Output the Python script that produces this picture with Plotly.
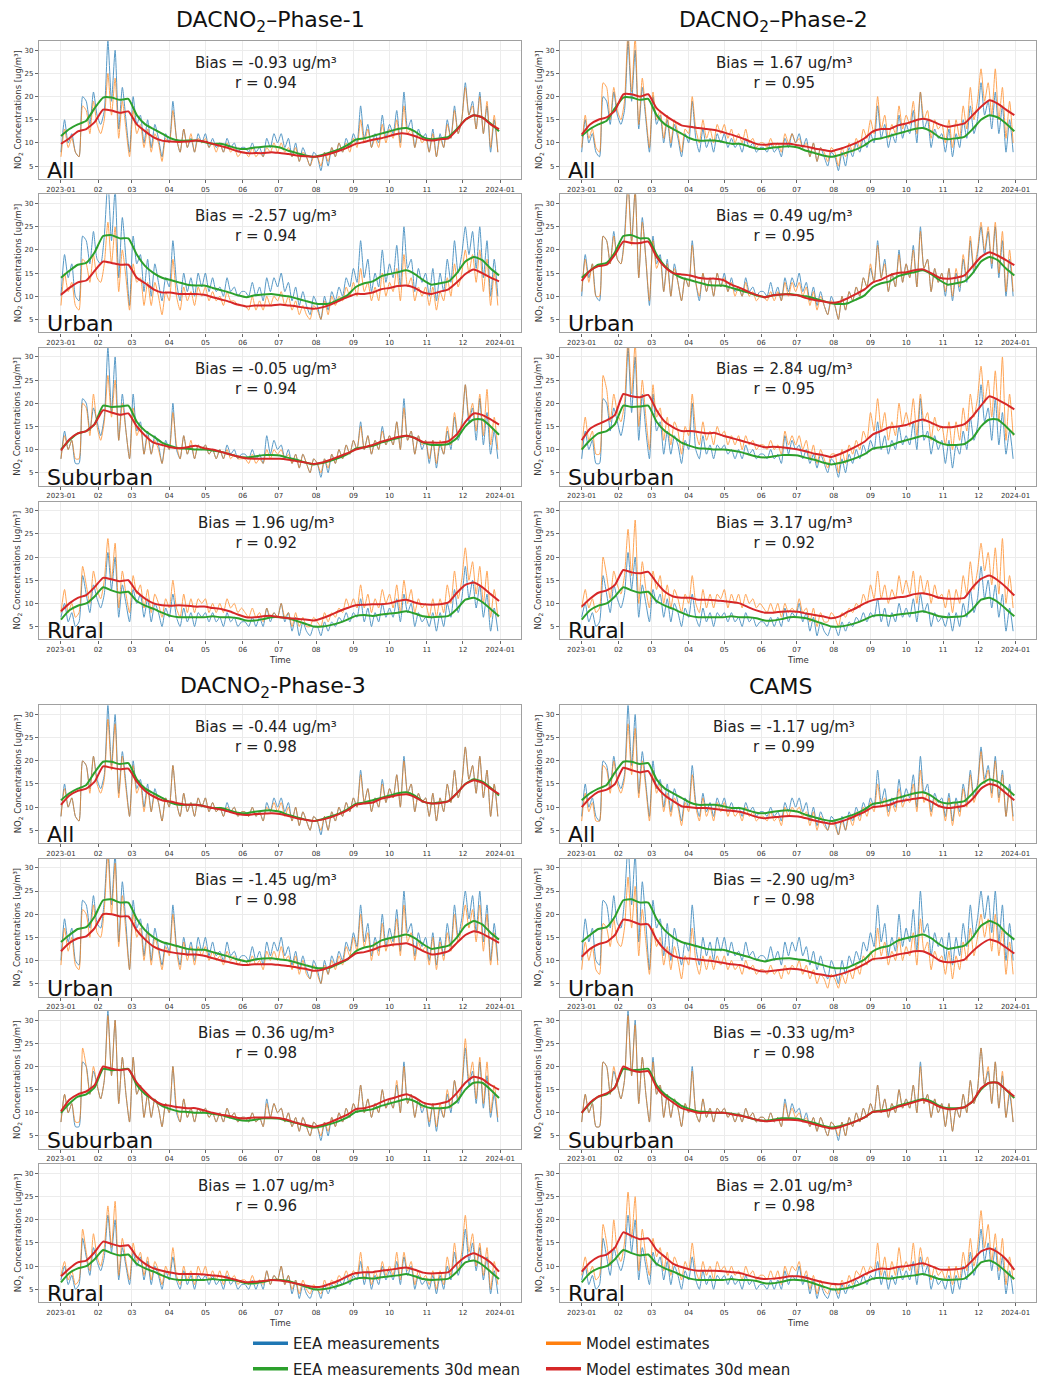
import plotly.graph_objects as go
import pandas as pd

W, H = 1038, 1385

# ---------------- data ----------------
TICK_LABELS = ["2023-01", "02", "03", "04", "05", "06", "07", "08", "09", "10", "11", "12", "2024-01"]
MONTH_TICKS = pd.date_range("2023-01-01", "2024-01-01", freq="MS")
Y_TICKS = [5, 10, 15, 20, 25, 30]
X_RANGE = ["2022-12-13 18:00", "2024-01-18 06:00"]
Y_RANGE = [2.2, 32.0]

DAILY_DATES = pd.date_range("2023-01-01", periods=122, freq="3D")   # every third day
MEAN_DATES = pd.date_range("2023-01-01", periods=53, freq="7D")     # weekly samples of 30d mean

CATEGORIES = ["All", "Urban", "Suburban", "Rural"]
MODELS = ["DACNO<sub>2</sub>–Phase-1", "DACNO<sub>2</sub>–Phase-2", "DACNO<sub>2</sub>-Phase-3", "CAMS"]

BIAS_P1 = [-0.93, -2.57, -0.05, 1.96]
BIAS_P2 = [1.67, 0.49, 2.84, 3.17]
BIAS_P3 = [-0.44, -1.45, 0.36, 1.07]
BIAS_CAMS = [-1.17, -2.90, -0.33, 2.01]
R_P1 = [0.94, 0.94, 0.94, 0.92]
R_P2 = [0.95, 0.95, 0.95, 0.92]
R_P3 = [0.98, 0.98, 0.98, 0.96]
R_CAMS = [0.99, 0.98, 0.98, 0.98]

# EEA measurements (shared by all models)
EEA_ALL = [8,15,10,12,8,7,20,19,14,21,16, 14,17,32,19,30,13,22,15,8, 20,14,16,10,15,9,14,11,7,12,
           10,19,11,8,13,9,11,8,12,10, 12,9,11,9,10,8,11,9,10,8,9, 9,8,10,8,9,7,11,9,12,10,
           12,9,11,7,10,6,9,7,5,8, 7,4,8,5,9,7,10,8,11,9, 12,10,18,11,14,9,12,10,16,11,
           14,12,17,10,21,13,15,9,13,11,12, 8,13,7,12,9,15,11,18,12,15, 23,16,19,13,21,12,18,8,15,8]
EEA_URB = [10,19,14,17,10,9,23,22,17,24,18, 17,23,35,22,33,14,27,18,8, 23,17,19,11,18,10,17,13,9,14,
           12,22,13,9,15,11,14,10,15,12, 15,11,14,11,12,10,14,11,12,10,11, 11,10,13,10,12,9,14,11,14,12,
           15,11,13,9,12,8,11,8,6,10, 8,5,10,7,11,9,12,10,14,12, 16,13,22,14,18,11,15,12,20,13,
           17,14,21,12,25,16,18,11,16,13,15, 10,16,9,15,11,18,13,22,15,19, 25,19,24,16,25,14,22,10,18,10]
EEA_SUB = [8,14,10,12,7,7,21,20,14,19,16, 13,17,32,18,30,12,22,14,8, 22,14,16,9,14,9,13,11,7,12,
           10,20,10,8,13,9,11,8,11,10, 11,9,10,8,10,8,11,9,10,8,9, 9,8,10,8,9,7,13,9,12,10,
           11,8,10,7,9,6,9,7,5,8, 7,4,8,5,9,7,10,8,11,9, 12,10,16,10,13,9,12,10,15,11,
           13,11,16,10,21,12,14,9,13,10,12, 7,12,6,11,9,14,10,17,12,15, 24,16,19,12,21,11,18,9,14,8]
EEA_RUR = [7,10,6,8,5,6,16,12,8,14,11, 9,12,21,13,20,7,14,10,6, 13,10,12,7,11,6,10,8,5,9,
           7,12,7,5,9,6,8,5,8,7, 8,6,8,6,7,5,8,6,7,5,6, 6,5,7,5,7,5,9,6,8,7,
           10,6,8,4,7,3,6,4,3,5, 5,3,6,4,6,5,7,6,8,6, 8,7,11,6,9,5,8,6,10,7,
           9,7,11,6,12,8,10,5,8,6,7, 5,8,4,8,5,10,7,13,8,11, 18,11,15,9,14,7,12,4,9,4]

EEA_MEAN_ALL = [11.5,13,14,14.8,17.5, 19.8,19.8,19.3,19.5, 16,14,13,12, 11,10.5,10.5,10.5,10.2,
                9.8,9.8,9.3,8.8, 8.7,9,9.2,9.3, 9,8.3,7.8,7.3,7, 7.4,8,8.6,9.5, 10.7,11,11.5,12,
                12.5,13,13.2,12.5,11.2, 10.8,11,11.3,13, 15,16,15.5,14.2,12.5]
EEA_MEAN_URB = [14,15.5,16.8,17.2,19.5, 23,23.2,22.5,22.5, 19,16.5,15,14, 13.5,13,12.5,12.3,12.3,
                11.8,11.3,10.8,10.2, 9.8,10.2,10.4,10.5, 10.2,10,9.5,9,8.5, 8.3,8.5,9.3,10.2, 12,12.8,13.2,14.3,
                14.8,15.2,15.6,14.8,13.5, 12.5,12.8,13.2,15, 17.5,18.5,17.8,16,14.5]
EEA_MEAN_SUB = [10,12,13.5,14,15.5, 19.5,19.2,19.3,19.5, 16,14,12.8,11.5, 10.8,10.3,10.2,10,10,
                9.8,9.5,9,8.5, 8.3,8.5,8.8,8.8, 8.7,8.2,7.8,7.2,6.8, 7.1,7.6,8.2,9, 10.2,10.5,10.8,11.5,
                12,12.5,13,12.5,11.5, 11,11,11.2,12.5, 15,16.5,16.5,15,13.2]
EEA_MEAN_RUR = [6.5,8.5,9.5,10,11.5, 13.5,12.8,12.3,12.5, 10.5,9.5,8.8,8, 7.3,7,7,7,7,
                7.2,7,7,6.8, 6.3,6.3,6.6,7, 7,6.8,6.2,5.6,5, 5,5.3,5.8,6.5, 7.3,7.5,7.3,7.6,
                7.8,8,8.3,7.8,7.2, 7,7.1,7.3,8.8, 10.8,11.2,10.3,8.8,7.2]

# Model estimates (daily samples)
P1_ALL = [7,13,9,11,8,7,18,17,12,19,14, 12,15,25,16,24,11,19,13,7, 17,12,14,9,13,8,12,10,6,11,
          10,17,11,8,13,9,12,8,11,10, 11,9,10,8,10,8,10,8,9,7,8, 8,7,9,7,8,7,9,8,10,8,
          10,8,9,7,9,6,8,7,5,7, 7,5,8,6,9,7,10,8,10,8, 11,9,15,10,13,9,11,9,14,10,
          13,11,15,9,18,12,13,9,12,10,11, 8,12,7,11,9,14,11,17,12,15, 22,16,18,13,20,12,19,9,16,8]
P1_URB = [8,15,11,13,8,7,18,17,13,19,14, 13,17,26,17,25,11,20,14,7, 17,13,14,8,13,8,13,10,6,11,
          9,18,10,7,12,9,11,8,12,10, 12,9,11,9,10,8,11,9,9,8,8, 8,7,10,7,9,7,10,8,10,9,
          11,8,10,7,9,6,8,6,5,8, 7,5,9,6,10,8,10,9,12,10, 13,10,16,11,13,9,12,9,15,10,
          13,11,16,9,19,12,14,9,12,10,12, 8,12,7,11,9,14,10,17,12,15, 20,15,19,13,20,11,18,8,15,8]
P1_SUB = [8,13,10,12,8,8,20,19,13,22,15, 12,16,26,17,25,12,20,14,8, 19,13,15,9,13,9,12,10,7,11,
          10,18,11,8,13,9,12,8,11,10, 11,9,10,8,10,8,10,8,9,8,8, 8,7,9,7,8,7,10,8,10,9,
          10,8,9,7,9,6,9,7,5,8, 7,5,8,6,9,7,10,8,11,9, 12,10,15,10,13,9,12,10,14,11,
          13,11,16,10,19,12,14,9,13,11,12, 8,12,7,12,9,15,11,18,13,16, 24,17,20,14,22,13,23,11,17,10]
P1_RUR = [8,13,8,10,7,8,18,14,10,17,13, 11,15,24,15,23,9,17,12,8, 16,12,14,9,13,8,12,10,7,11,
          9,15,9,7,12,8,11,8,11,10, 11,8,10,8,10,8,11,9,10,8,9, 8,7,9,7,8,6,9,7,8,7,
          10,7,8,5,8,5,7,5,5,7, 6,5,8,6,8,7,9,8,11,9, 11,9,14,9,12,8,11,9,13,10,
          12,9,14,8,15,10,13,8,11,9,10, 7,11,7,11,8,14,10,17,11,15, 22,15,19,12,18,10,17,7,13,7]

P2_ALL = [9,16,11,13,9,8,23,22,15,22,17, 15,19,34,21,33,14,24,16,9, 21,15,17,11,16,10,15,12,8,13,
          12,20,13,10,15,11,13,10,14,12, 14,11,13,10,12,10,13,10,11,9,10, 10,9,11,9,10,8,12,10,12,10,
          11,9,10,7,10,6,9,8,6,9, 8,5,9,7,10,8,11,9,13,11, 15,12,20,13,16,11,14,12,18,13,
          16,14,19,12,21,15,17,11,15,13,14, 10,15,9,15,11,18,13,22,15,19, 26,19,23,16,26,15,22,11,19,10]
P2_URB = [11,18,13,17,10,10,23,22,17,23,18, 17,22,34,21,33,14,26,18,9, 22,16,18,11,17,10,16,13,9,14,
          12,21,13,10,15,11,14,10,15,12, 14,11,13,10,12,10,13,10,11,9,10, 10,9,11,9,11,9,13,10,13,11,
          13,10,12,8,11,7,10,8,6,9, 8,5,10,7,11,9,12,10,14,12, 17,13,21,14,17,11,15,12,19,13,
          17,14,20,12,24,16,18,11,16,13,15, 11,16,10,16,12,19,14,23,16,20, 26,20,25,17,26,15,24,11,20,11]
P2_SUB = [10,17,12,14,9,9,26,23,16,22,18, 16,20,34,22,33,15,25,17,10, 24,17,19,12,17,11,16,14,9,15,
          13,22,14,11,16,12,14,11,15,13, 14,11,13,11,13,10,13,11,12,10,11, 11,10,12,10,11,9,14,11,13,11,
          13,10,12,8,11,7,10,8,6,9, 9,5,10,7,11,9,12,10,14,12, 18,14,21,14,18,12,16,13,20,15,
          18,15,21,13,22,16,18,12,17,14,15, 11,16,10,16,12,19,14,22,17,21, 28,20,25,17,27,16,30,12,22,13]
P2_RUR = [9,13,9,11,8,9,20,16,11,17,14, 12,16,26,16,28,10,19,13,9, 17,13,16,10,14,9,13,11,8,12,
          10,16,10,8,13,9,12,9,12,11, 13,9,12,10,12,9,12,10,11,9,10, 9,8,10,8,10,7,10,8,9,8,
          11,8,9,6,9,5,8,6,6,8, 7,5,8,7,9,8,10,9,12,10, 14,11,17,11,14,10,13,11,16,12,
          15,12,17,10,16,12,15,10,14,11,12, 9,13,8,13,10,16,12,19,13,17, 23,17,21,14,22,12,24,10,16,9]

P3_ALL = [8,14,10,12,8,7,20,19,13,21,15, 13,16,29,18,28,12,21,14,8, 19,13,15,9,14,9,13,11,7,12,
          10,19,11,8,13,9,11,8,12,10, 12,9,11,9,10,8,10,9,10,8,9, 9,8,10,8,9,7,10,9,11,9,
          11,8,10,7,10,6,9,7,5,8, 7,5,8,5,9,7,10,8,11,9, 12,10,17,11,14,9,12,10,15,11,
          14,12,17,10,20,13,15,9,13,11,12, 8,13,7,12,9,15,11,18,12,15, 23,16,19,13,21,12,18,8,15,8]
P3_URB = [9,17,12,15,9,8,21,20,15,22,16, 15,21,33,20,31,13,24,16,8, 20,15,17,10,16,9,15,12,8,13,
          11,20,12,8,14,10,13,9,13,11, 13,10,12,10,11,9,12,10,11,9,10, 10,9,11,9,10,8,12,10,12,10,
          13,10,11,8,11,7,10,7,6,9, 7,5,9,7,10,8,11,9,13,11, 15,12,20,13,16,10,14,11,18,12,
          15,13,19,11,22,14,16,10,14,12,13, 9,15,8,14,10,16,12,20,14,17, 22,17,21,14,22,12,20,9,16,9]
P3_SUB = [8,14,10,12,8,8,24,20,14,20,16, 13,17,31,18,30,12,22,14,8, 22,14,16,9,14,9,13,11,7,12,
          10,20,11,8,13,9,11,8,11,10, 11,9,10,8,10,8,11,9,10,8,9, 9,8,10,8,9,7,12,9,12,10,
          11,8,10,7,9,6,9,7,5,8, 7,5,8,6,9,7,10,8,11,9, 12,10,16,10,13,9,12,10,15,11,
          13,11,17,10,20,12,14,9,13,11,12, 8,12,7,12,9,15,11,17,13,16, 26,17,21,13,22,12,21,10,16,9]
P3_RUR = [8,11,7,9,6,7,18,13,9,17,12, 10,14,23,14,24,8,16,11,7, 15,11,13,8,12,7,11,9,6,10,
          8,14,8,6,10,7,9,6,10,8, 10,7,9,7,9,6,9,7,8,6,7, 7,6,8,6,7,6,9,6,8,7,
          10,6,8,5,7,4,7,5,4,6, 5,4,7,5,7,6,8,7,9,7, 9,8,13,7,10,6,9,7,11,8,
          10,8,13,7,13,9,11,6,9,7,8, 6,9,5,9,6,12,8,15,9,13, 21,13,17,10,15,8,14,5,11,6]

CAMS_ALL = [7,13,9,11,7,7,19,18,13,20,15, 13,16,28,17,27,12,20,14,7, 18,13,15,9,13,8,12,10,6,11,
            9,17,10,7,12,8,10,7,11,9, 11,8,10,8,9,7,10,8,9,7,8, 8,7,9,7,8,6,10,8,10,9,
            10,8,9,6,9,5,8,6,5,7, 6,4,7,5,8,6,9,7,10,8, 11,9,15,10,12,8,11,9,14,10,
            12,11,15,9,18,11,13,8,12,10,11, 7,12,6,11,8,14,10,17,11,14, 22,15,18,12,20,11,17,8,14,7]
CAMS_URB = [8,14,10,13,8,7,18,17,13,19,14, 13,17,28,17,26,11,21,14,7, 17,13,15,9,13,8,13,10,6,11,
            9,17,10,7,11,8,11,8,11,9, 11,8,10,8,9,7,10,8,9,7,8, 8,7,9,7,8,6,9,7,9,8,
            10,7,9,6,8,5,7,6,4,7, 6,4,7,5,8,6,9,7,11,9, 12,10,17,11,14,9,12,10,15,10,
            13,11,16,9,19,12,14,8,12,10,11, 7,12,6,11,8,14,10,17,11,15, 20,15,19,12,20,11,17,7,14,7]
CAMS_SUB = [8,14,10,12,7,7,21,20,14,20,16, 13,17,31,18,29,12,22,14,8, 21,14,16,9,14,9,13,11,7,12,
            10,19,10,8,13,9,11,8,11,10, 11,9,10,8,10,8,11,9,10,8,9, 9,8,10,8,9,7,12,9,11,9,
            10,8,9,7,9,6,9,7,5,8, 7,5,8,5,9,7,10,8,11,9, 12,10,16,10,13,9,12,10,15,11,
            13,11,16,10,20,12,14,9,13,10,12, 7,12,6,11,9,14,10,17,12,15, 24,16,20,12,21,11,19,9,15,8]
CAMS_RUR = [8,12,8,10,7,8,19,15,10,20,13, 11,15,26,16,25,9,18,12,8, 16,12,14,9,13,8,12,10,7,11,
            9,15,9,7,11,8,10,7,11,9, 10,8,10,8,9,7,10,8,9,7,8, 8,7,9,7,9,6,10,8,10,9,
            11,7,9,5,8,4,7,5,4,6, 6,4,7,5,8,6,9,8,10,8, 10,9,15,8,12,7,11,8,14,9,
            11,9,15,8,14,10,12,7,10,8,9, 7,10,6,10,7,13,9,16,10,14, 22,14,19,11,17,9,16,6,12,7]

# Model estimates 30d mean (weekly samples)
P1_MEAN_ALL = [9.8,11,12.5,13,14.5, 17.2,17,16.5,16.8, 14,12.5,11.2,10.5, 10.3,10.2,10.3,10.5,10.3,
               9.8,9.3,8.8,8.2, 7.8,7.8,7.8,8, 7.8,7.6,7.3,7.1,7, 7.2,7.7,8.3,9, 9.8,10.2,10.7,11,
               11.5,12,12,11.5,10.8, 10.5,10.8,11,12.8, 15,16,15.5,14,13]
P1_MEAN_URB = [10.3,11.8,13,13.4,15.5, 17.5,17.2,16.8,16.8, 14,12.8,11.5,10.8, 10.8,10.5,10.5,10.5,10.3,
               9.8,9.3,8.8,8.2, 7.8,8,8,8, 8.2,8,7.8,7.5,7.3, 7.6,8.2,9,9.8, 10.5,10.5,10.8,11.5,
               11.8,12.2,12.3,11.8,10.8, 10.5,11,11.5,13, 14.8,15.8,15,14,13.2]
P1_MEAN_SUB = [9.8,12.2,13.5,14,15.5, 18.5,18,17.5,17.8, 15,13,11.5,11, 10.5,10.3,10.5,10.8,10.3,
               10,9.5,9,8.5, 8.1,8,8,8, 8,7.8,7.5,7.2,6.9, 7.2,7.8,8.5,9.2, 10,10.5,11,11.7,
               12.2,12.7,13,12.5,11.6, 11.5,11.5,11.8,13.3, 16,17.8,17.5,16.5,15.4]
P1_MEAN_RUR = [8.3,10,11.2,11.8,13.5, 15.5,15.2,14.8,15, 12.5,11,10,9.6, 9.5,9.6,9.5,9.3,9.3,
               9,8.8,8.3,7.6, 7,7,7.2,7.3, 7,6.8,6.7,6.5,6.3, 6.8,7.5,8.3,9, 9.6,9.7,9.8,9.8,
               10,10.5,10.8,10.2,9.8, 9.7,9.8,10.2,12.3, 14,14.5,13.5,12,10.5]

P2_MEAN_ALL = [11.8,14,15,15.5,17, 20.5,20.5,20,20.5, 17.5,16,14.8,13.8, 13.5,13.2,13,12.8,12.3,
               11.8,11.2,10.5,9.8, 9.6,9.8,9.8,9.8, 9.5,9.2,8.8,8.5,8.2, 8.7,9.3,10,11, 12.5,13,13,13.8,
               14.2,14.8,15.2,14.8,14, 13.5,13.8,14.2,16, 17.8,19.2,18.5,17.2,16]
P2_MEAN_URB = [13.3,15.5,16.5,16.8,19, 21.8,21.5,21.5,21.8, 18.5,16.3,15,14.7, 14.5,14,13.8,13.8,13.5,
               12.5,11.8,11,10.3, 9.8,10.2,10.4,10.4, 10.2,9.6,9.2,8.9,8.6, 8.8,9.6,10.5,11.5, 13,13.6,14.5,15,
               15.2,15.6,15.8,15,14, 13.8,14,14.5,16.5, 18.5,19.5,18.8,17.8,16.7]
P2_MEAN_SUB = [12,14.5,15.5,16.3,17.5, 22,21.5,21.3,21.8, 18.5,16,14.8,14, 14,13.8,13.5,13.6,13,
               12.5,12,11.5,11, 10.5,10.6,10.5,10.3, 10,9.6,9.1,8.8,8.4, 9,9.8,10.7,11.7, 13.3,14,14.8,15,
               15.3,16,16.5,15.8,15, 14.8,15,15.5,17.2, 19.5,21.5,20.8,19.8,18.7]
P2_MEAN_RUR = [9.3,11,12.3,12.8,14, 17.2,16.7,16.5,16.8, 14.5,12.5,11.5,11.2, 11.2,10.8,10.8,10.7,10.5,
               10.3,10,9.2,8.5, 8,8,8.2,8.3, 8.2,7.8,7.5,7.2,6.8, 7.2,8.2,9,10, 10.7,11,11,11.3,
               11.5,12,12.2,11.8,11.2, 11,11,11.2,13.5, 15.3,16,15,13.5,11.7]

P3_MEAN_ALL = [10.5,12.5,13.5,14,15.5, 18.8,18.5,18.2,18.3, 15.5,13.5,12.3,11.5, 11.2,10.8,10.5,10.5,10.2,
               9.8,9.5,9,8.5, 8.3,8.5,8.6,8.7, 8.5,8.1,7.6,7.3,7, 7.3,7.8,8.5,9.3, 10.5,10.8,11,11.8,
               12.2,12.6,12.8,12.2,11.2, 10.8,10.9,11.3,13, 15,15.8,15.3,14,12.8]
P3_MEAN_URB = [12,13.8,14.8,15.2,17, 20,20,19.5,19.5, 16.5,14.5,13,12.2, 11.8,11.5,11.3,11.3,11,
               10.5,10,9.6,9.2, 9,9.2,9.2,9.2, 9,8.8,8.5,8.2,7.8, 8,8.7,9.5,10.3, 11.5,11.8,12.3,13,
               13.3,13.5,13.7,13,12, 11.3,11.5,12,13.8, 15.5,16.3,15.8,14.8,13.8]
P3_MEAN_SUB = [10.3,12.8,14,14.6,16, 20,19.5,19.2,19.4, 16.5,14.5,12.8,11.8, 11.5,11.2,11,11,10.5,
               10,9.6,9.3,8.9, 8.8,9,9,9, 8.8,8.4,7.8,7.4,7, 7.4,8,8.8,9.6, 10.8,11,11.5,12.3,
               13,13.5,14,13.3,12.2, 11.8,12,12.5,14.3, 16.5,17.8,17.3,16,15]
P3_MEAN_RUR = [7.8,9.5,10.8,11.2,13, 15.3,14.8,14.3,14.5, 12,10.5,9.5,9, 8.6,8.3,8.3,8.3,8.2,
               8,7.8,7.4,6.9, 6.5,6.6,6.8,7, 6.9,6.6,6.2,5.8,5.5, 5.6,6.2,6.9,7.8, 8.5,8.7,8.7,9,
               9.2,9.5,9.7,9.2,8.6, 8.4,8.5,8.7,10.5, 12,12.8,12,10.8,8.8]

CAMS_MEAN_ALL = [10,12,13.3,13.8,15, 18.5,18,17.5,17.8, 14.5,12.5,11.3,10.2, 10,9.8,9.8,9.6,9.4,
                 9.2,9,8.5,7.9, 7.6,7.8,8,8.1, 8,7.6,7.1,6.7,6.4, 6.8,7.4,8.2,9, 10,10.2,10.5,11.2,
                 11.5,11.8,12,11.2,10.2, 9.8,10,10.3,11.8, 14,15,14.5,13,11.5]
CAMS_MEAN_URB = [10.8,12.5,13.5,14,15.5, 18.8,18.5,17.8,17.8, 14.5,12.3,11,10.5, 10.4,10.2,10,9.8,9.5,
                 9.2,9,8.5,7.9, 7.6,7.8,8,8.2, 8.1,7.7,7.2,6.9,6.6, 7,7.6,8.3,9.2, 10.3,10.5,10.8,11.3,
                 11.6,12,12,11.2,10, 9.6,9.8,10.2,12, 13.5,14.5,14,12.8,11.5]
CAMS_MEAN_SUB = [10,12.2,13.5,14.2,15.5, 20,19.2,18.8,19, 15.5,13.5,12.2,11, 10.5,10,10,10,10,
                 9.7,9.4,9,8.5, 8.2,8.3,8.5,8.5, 8.4,8,7.5,7,6.6, 6.9,7.5,8.2,9, 10.2,10.3,10.6,11.3,
                 11.8,12.3,12.8,12.2,11.3, 10.8,10.9,11.2,12.5, 15.3,16.5,16.5,15,13.5]
CAMS_MEAN_RUR = [8.8,10.8,12,12.5,14, 17.3,16.5,15.8,16, 13.5,12,10.5,9.8, 9.3,9,9,9,8.9,
                 8.7,8.5,8,7.5, 7.2,7.3,7.5,7.8, 7.8,7.5,7,6.5,6.2, 6.1,6.5,7.3,8.2, 9,9.5,9.4,9.8,
                 10,10.3,10.6,10,9.3, 9.2,9.3,9.6,11.3, 13.2,13.8,13,11.5,9.2]

EEA_DAILY = [EEA_ALL, EEA_URB, EEA_SUB, EEA_RUR]
EEA_MEAN = [EEA_MEAN_ALL, EEA_MEAN_URB, EEA_MEAN_SUB, EEA_MEAN_RUR]
MODEL_DAILY = [[P1_ALL, P1_URB, P1_SUB, P1_RUR], [P2_ALL, P2_URB, P2_SUB, P2_RUR],
               [P3_ALL, P3_URB, P3_SUB, P3_RUR], [CAMS_ALL, CAMS_URB, CAMS_SUB, CAMS_RUR]]
MODEL_MEAN = [[P1_MEAN_ALL, P1_MEAN_URB, P1_MEAN_SUB, P1_MEAN_RUR],
              [P2_MEAN_ALL, P2_MEAN_URB, P2_MEAN_SUB, P2_MEAN_RUR],
              [P3_MEAN_ALL, P3_MEAN_URB, P3_MEAN_SUB, P3_MEAN_RUR],
              [CAMS_MEAN_ALL, CAMS_MEAN_URB, CAMS_MEAN_SUB, CAMS_MEAN_RUR]]
BIAS = [BIAS_P1, BIAS_P2, BIAS_P3, BIAS_CAMS]
RCOEF = [R_P1, R_P2, R_P3, R_CAMS]

# ---------------- style / geometry ----------------
FONT = "DejaVu Sans"
C_EEA, C_MOD, C_EEA_M, C_MOD_M = "#1f77b4", "#ff7f0e", "#2ca02c", "#d62728"
COL_X = [(39, 521), (560, 1036)]
GROUP_TOPS = [[41.5, 196.5, 351.5, 507.0], [713.0, 868.0, 1022.0, 1177.0]]
PH = 139.5
MODEL_POS = [(0, 0), (0, 1), (1, 0), (1, 1)]   # (group, column)
TITLE_XY = [(270, 22), (773, 22), (273, 695), (780, 694)]


def px(x):
    return x / W


def py(y):
    return 1 - y / H


fig = go.Figure()
layout = dict(width=W, height=H, margin=dict(l=0, r=0, t=0, b=0),
              paper_bgcolor="white", plot_bgcolor="white",
              font=dict(family=FONT, color="#222"), showlegend=True)
annotations = []

n = 0
for mi, model in enumerate(MODELS):
    g, c = MODEL_POS[mi]
    x0, x1 = COL_X[c]
    tx, ty = TITLE_XY[mi]
    annotations.append(dict(text=model, x=px(tx), y=py(ty), xref="paper", yref="paper",
                            xanchor="center", yanchor="middle", showarrow=False,
                            font=dict(size=22, family=FONT, color="#111")))
    for ci, cat in enumerate(CATEGORIES):
        n += 1
        top = GROUP_TOPS[g][ci]
        bot = top + PH
        xa, ya = f"x{n}", f"y{n}"
        layout[f"xaxis{n}"] = dict(domain=[px(x0), px(x1)], anchor=ya, type="date", range=X_RANGE,
                                   tickvals=MONTH_TICKS, ticktext=TICK_LABELS,
                                   tickfont=dict(size=7, color="#333", family=FONT),
                                   ticks="outside", ticklen=3, tickcolor="#666", tickwidth=0.8,
                                   showgrid=True, gridcolor="#ececec", gridwidth=0.8,
                                   showline=True, mirror=True, linecolor="#a0a0a0", linewidth=1.3,
                                   zeroline=False, fixedrange=True)
        layout[f"yaxis{n}"] = dict(domain=[py(bot), py(top)], anchor=xa, range=Y_RANGE,
                                   tickvals=Y_TICKS, tickfont=dict(size=7, color="#333", family=FONT),
                                   ticks="outside", ticklen=3, tickcolor="#666", tickwidth=0.8,
                                   showgrid=True, gridcolor="#ececec", gridwidth=0.8,
                                   showline=True, mirror=True, linecolor="#a0a0a0", linewidth=1.3,
                                   zeroline=False, fixedrange=True)
        fig.add_trace(go.Scatter(x=DAILY_DATES, y=EEA_DAILY[ci], xaxis=xa, yaxis=ya, mode="lines",
                                 line=dict(color=C_EEA, width=1, shape="spline", smoothing=0.6),
                                 opacity=0.75, showlegend=False, hoverinfo="skip"))
        fig.add_trace(go.Scatter(x=DAILY_DATES, y=MODEL_DAILY[mi][ci], xaxis=xa, yaxis=ya, mode="lines",
                                 line=dict(color=C_MOD, width=1, shape="spline", smoothing=0.6),
                                 opacity=0.7, showlegend=False, hoverinfo="skip"))
        fig.add_trace(go.Scatter(x=MEAN_DATES, y=EEA_MEAN[ci], xaxis=xa, yaxis=ya, mode="lines",
                                 line=dict(color=C_EEA_M, width=2, shape="spline", smoothing=0.5),
                                 showlegend=False, hoverinfo="skip"))
        fig.add_trace(go.Scatter(x=MEAN_DATES, y=MODEL_MEAN[mi][ci], xaxis=xa, yaxis=ya, mode="lines",
                                 line=dict(color=C_MOD_M, width=2, shape="spline", smoothing=0.5),
                                 showlegend=False, hoverinfo="skip"))
        # bias / r text
        annotations.append(dict(text=f"Bias = {BIAS[mi][ci]:.2f} ug/m³<br>r = {RCOEF[mi][ci]:.2f}",
                                x=px(x0 + 0.47 * (x1 - x0)), y=py(top + 32), xref="paper", yref="paper",
                                xanchor="center", yanchor="middle", showarrow=False,
                                font=dict(size=15, family=FONT, color="#222")))
        # category label
        annotations.append(dict(text=cat, x=px(x0 + 6), y=py(bot + 6), xref="paper", yref="paper",
                                xanchor="left", yanchor="bottom", showarrow=False,
                                font=dict(size=22, family=FONT, color="#111")))
        # y-axis label
        annotations.append(dict(text="NO<sub>2</sub> Concentrations [ug/m³]",
                                x=px(x0 - 21), y=py(top + PH / 2), xref="paper", yref="paper",
                                xanchor="center", yanchor="middle", textangle=-90, showarrow=False,
                                font=dict(size=8.5, family=FONT, color="#333")))
        if ci == 3:
            annotations.append(dict(text="Time", x=px((x0 + x1) / 2), y=py(bot + 21), xref="paper",
                                    yref="paper", xanchor="center", yanchor="middle", showarrow=False,
                                    font=dict(size=8.5, family=FONT, color="#333")))

# legend entries (legend-only traces, no data)
LEGEND_ITEMS = [("EEA measurements", C_EEA, "legend"), ("EEA measurements 30d mean", C_EEA_M, "legend"),
                ("Model estimates", C_MOD, "legend2"), ("Model estimates 30d mean", C_MOD_M, "legend2")]
for name, col, lg in LEGEND_ITEMS:
    fig.add_trace(go.Scatter(x=[None], y=[None], xaxis="x1", yaxis="y1", mode="lines", name=name,
                             legendgroup=name, line=dict(color=col, width=3.5), legend=lg,
                             hoverinfo="skip"))

leg_common = dict(yanchor="top", xanchor="left", bgcolor="rgba(0,0,0,0)", borderwidth=0,
                  font=dict(size=15, family=FONT, color="#222"), itemwidth=35, tracegroupgap=3,
                  orientation="v")
layout["legend"] = dict(x=px(248), y=py(1342), **leg_common)
layout["legend2"] = dict(x=px(541), y=py(1342), **leg_common)
layout["annotations"] = annotations
fig.update_layout(**layout)
fig.write_html("out.html")
